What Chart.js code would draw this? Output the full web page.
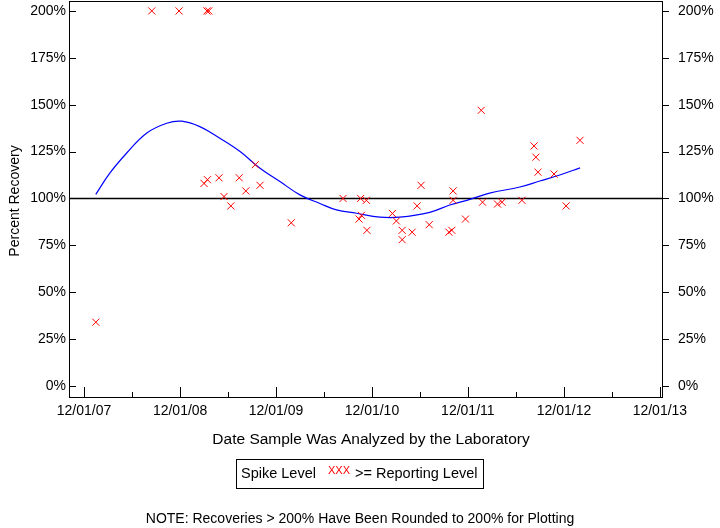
<!DOCTYPE html>
<html>
<head>
<meta charset="utf-8">
<script src="https://cdn.jsdelivr.net/npm/chart.js@4.4.0/dist/chart.umd.min.js"></script>
<style>
  html, body { margin: 0; padding: 0; background: #fff; }
</style>
</head>
<body>
<canvas id="chart" width="720" height="528"></canvas>
<script>
// sample analysis dates and percent recoveries (values > 200 already clipped to 200)
const sampleDates = [
  '2008-01-15', '2008-08-15', '2008-11-27', '2009-03-13', '2009-03-20',
  '2009-03-02', '2009-03-15', '2009-04-28', '2009-05-17', '2009-06-12',
  '2009-07-14', '2009-08-08', '2009-09-13', '2009-10-01', '2010-01-28',
  '2010-08-13', '2010-10-19', '2010-11-10', '2010-10-22', '2010-10-13',
  '2010-11-12', '2011-02-17', '2011-03-04', '2011-03-26', '2011-03-26',
  '2011-05-03', '2011-05-22', '2011-06-06', '2011-07-07', '2011-09-20',
  '2011-10-01', '2011-10-06', '2011-10-06', '2011-11-22', '2012-01-21',
  '2012-01-26', '2012-03-23', '2012-04-09', '2012-06-24', '2012-08-09',
  '2012-08-16', '2012-08-24', '2012-10-24', '2012-12-09', '2013-01-31'
];
const recoveries = [
  34, 200, 200, 200, 200,
  108, 110, 111, 101, 96,
  111, 104, 118, 107, 87,
  100, 100, 99, 91, 89,
  83, 92, 88, 83, 78,
  82, 96, 107, 86, 82,
  83, 104, 99, 89, 147,
  98, 97, 98, 99, 128,
  122, 114, 113, 96, 131
];

// smoothed trend (blue curve)
const fitDates = [
  '2008-01-15', '2008-03-09', '2008-05-11', '2008-07-26', '2008-10-11',
  '2008-12-07', '2009-02-14', '2009-05-01', '2009-07-17', '2009-10-01',
  '2009-12-16', '2010-03-02', '2010-05-17', '2010-07-19', '2010-10-03',
  '2010-12-31', '2011-03-17', '2011-07-09', '2011-09-23', '2011-12-09',
  '2012-02-22', '2012-06-16', '2012-08-31', '2012-11-15', '2013-01-31'
];
const fitValues = [
  102.2, 113.6, 124.1, 134.8, 140.1,
  141.2, 138.3, 132.1, 125.0, 116.1,
  109.0, 101.9, 97.3, 93.9, 92.1,
  90.0, 90.0, 92.6, 96.5, 99.5,
  102.8, 106.1, 109.3, 112.5, 116.3
];

const spikeLevel = 100;

const yTicks = [0, 25, 50, 75, 100, 125, 150, 175, 200];
const xTickDates = ['2007-12-01', '2008-12-01', '2009-12-01', '2010-12-01', '2011-12-01', '2012-12-01', '2013-12-01'];
const xTickLabels = ['12/01/07', '12/01/08', '12/01/09', '12/01/10', '12/01/11', '12/01/12', '12/01/13'];
const minorTickDates = ['2008-06-01', '2009-06-01', '2010-06-01', '2011-06-01', '2012-06-01', '2013-06-01'];

const DAY = 86400000;
const origin = Date.parse('2007-12-01');
const toDay = s => (Date.parse(s) - origin) / DAY;

const X_MIN = -57, X_MAX = 2200;
const Y_MIN = -5.9, Y_MAX = 205.3;
const FONT = '"Liberation Sans", Arial, sans-serif';

const points = sampleDates.map((d, i) => ({ x: toDay(d), y: recoveries[i] }));
const fit = fitDates.map((d, i) => ({ x: toDay(d), y: fitValues[i] }));
const refLine = [{ x: X_MIN, y: spikeLevel }, { x: X_MAX, y: spikeLevel }];

const decorations = {
  id: 'decorations',
  afterDraw(chart) {
    const ctx = chart.ctx;
    const a = chart.chartArea;
    const xs = chart.scales.x, ys = chart.scales.y;
    ctx.save();
    ctx.strokeStyle = '#000';
    ctx.lineWidth = 1;
    // frame
    ctx.strokeRect(Math.round(a.left) + 0.5, Math.round(a.top) + 0.5,
      Math.round(a.right - a.left), Math.round(a.bottom - a.top));
    ctx.beginPath();
    yTicks.forEach(v => {
      const y = Math.round(ys.getPixelForValue(v)) + 0.5;
      ctx.moveTo(a.left, y); ctx.lineTo(a.left + 7, y);
      ctx.moveTo(a.right, y); ctx.lineTo(a.right + 7, y);
    });
    xTickDates.forEach(d => {
      const x = Math.round(xs.getPixelForValue(toDay(d))) + 0.5;
      ctx.moveTo(x, a.bottom); ctx.lineTo(x, a.bottom - 10);
    });
    minorTickDates.forEach(d => {
      const x = Math.round(xs.getPixelForValue(toDay(d))) + 0.5;
      ctx.moveTo(x, a.bottom); ctx.lineTo(x, a.bottom - 5);
    });
    ctx.stroke();

    ctx.fillStyle = '#000';
    ctx.textBaseline = 'middle';
    ctx.textAlign = 'center';
    ctx.font = '15.5px ' + FONT;
    ctx.fillText('Date Sample Was Analyzed by the Laboratory', 371, 440);

    ctx.save();
    ctx.translate(15, 201);
    ctx.rotate(-Math.PI / 2);
    ctx.font = '14px ' + FONT;
    ctx.fillText('Percent Recovery', 0, 0);
    ctx.restore();

    // legend box
    ctx.strokeRect(236.5, 459.5, 247, 29);
    ctx.textAlign = 'left';
    ctx.font = '14.5px ' + FONT;
    ctx.fillText('Spike Level', 241, 474);
    ctx.fillStyle = '#ff0000';
    ctx.font = '11px ' + FONT;
    ctx.fillText('XXX', 328, 471);
    ctx.fillStyle = '#000';
    ctx.font = '14.5px ' + FONT;
    ctx.fillText('>= Reporting Level', 355, 474);

    ctx.textAlign = 'center';
    ctx.font = '14px ' + FONT;
    ctx.fillText('NOTE: Recoveries > 200% Have Been Rounded to 200% for Plotting', 360, 519);
    ctx.restore();
  }
};

const noPad = s => { s.paddingTop = 0; s.paddingBottom = 0; s.paddingLeft = 0; s.paddingRight = 0; };

const yAxis = (position, width) => ({
  type: 'linear',
  position: position,
  min: Y_MIN,
  max: Y_MAX,
  afterBuildTicks: s => { s.ticks = yTicks.map(v => ({ value: v })); },
  afterFit: s => { s.width = width; noPad(s); },
  grid: { display: false, drawTicks: false },
  border: { display: false },
  ticks: {
    color: '#000',
    font: { family: FONT, size: 14 },
    padding: position === 'left' ? 3 : 16,
    callback: v => v + '%'
  }
});

new Chart(document.getElementById('chart'), {
  data: {
    datasets: [
      {
        type: 'line',
        data: refLine,
        borderColor: '#000',
        borderWidth: 1.5,
        pointRadius: 0,
        order: 3
      },
      {
        type: 'line',
        data: fit,
        borderColor: '#0000ff',
        borderWidth: 1.2,
        pointRadius: 0,
        tension: 0.4,
        order: 2
      },
      {
        type: 'scatter',
        data: points,
        pointStyle: 'crossRot',
        pointRadius: 5,
        borderColor: '#ff0000',
        borderWidth: 1,
        order: 1
      }
    ]
  },
  options: {
    responsive: false,
    devicePixelRatio: 1,
    animation: false,
    layout: { autoPadding: false, padding: { top: 1, right: 0, left: 0, bottom: 104 } },
    plugins: { legend: { display: false }, tooltip: { enabled: false } },
    scales: {
      x: {
        type: 'linear',
        min: X_MIN,
        max: X_MAX,
        afterBuildTicks: s => { s.ticks = xTickDates.map(d => ({ value: toDay(d) })); },
        afterFit: s => { s.height = 27; noPad(s); },
        grid: { display: false, drawTicks: false },
        border: { display: false },
        ticks: {
          color: '#000',
          font: { family: FONT, size: 14 },
          padding: 6,
          maxRotation: 0,
          autoSkip: false,
          callback: (v, i) => xTickLabels[i]
        }
      },
      y: yAxis('left', 69),
      y2: yAxis('right', 58)
    }
  },
  plugins: [decorations]
});
</script>
</body>
</html>
